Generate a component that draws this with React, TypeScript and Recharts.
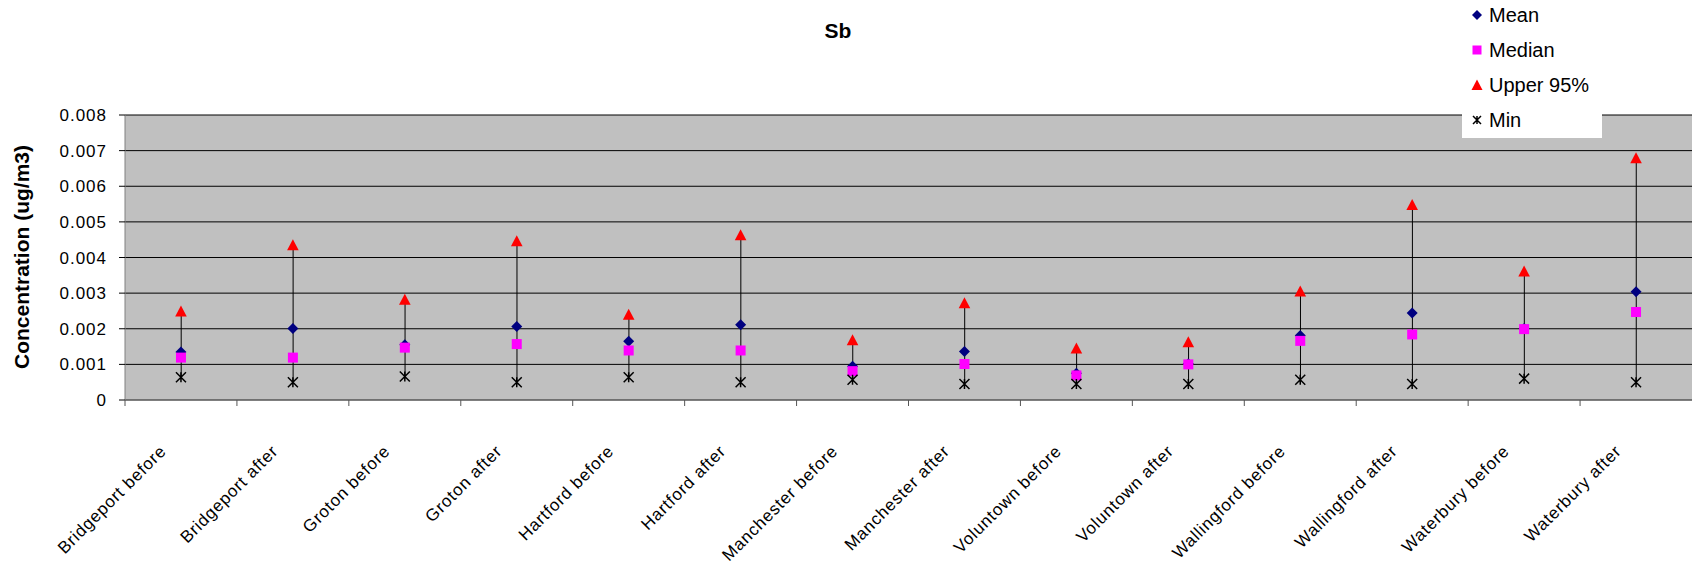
import { Bar, CartesianGrid, ComposedChart, Label, Line, XAxis, YAxis } from "recharts";

const CATEGORIES = [
  "Bridgeport before",
  "Bridgeport after",
  "Groton before",
  "Groton after",
  "Hartford before",
  "Hartford after",
  "Manchester before",
  "Manchester after",
  "Voluntown before",
  "Voluntown after",
  "Wallingford before",
  "Wallingford after",
  "Waterbury before",
  "Waterbury after",
];

const MEAN = [0.00135, 0.00201, 0.00155, 0.00206, 0.00165, 0.00211, 0.00095, 0.00136, 0.00075, 0.00102, 0.00181, 0.00244, 0.00201, 0.00304];
const MEDIAN = [0.00119, 0.00119, 0.00147, 0.00157, 0.00139, 0.00139, 0.00081, 0.00101, 0.00069, 0.001, 0.00166, 0.00184, 0.00199, 0.00247];
const UPPER_95 = [0.00249, 0.00435, 0.00282, 0.00446, 0.0024, 0.00463, 0.00168, 0.00272, 0.00145, 0.00163, 0.00305, 0.00548, 0.00361, 0.00679];
const MIN = [0.00064, 0.0005, 0.00066, 0.0005, 0.00064, 0.0005, 0.00057, 0.00045, 0.00045, 0.00045, 0.00057, 0.00045, 0.0006, 0.0005];

const Y_TICKS = [0, 0.001, 0.002, 0.003, 0.004, 0.005, 0.006, 0.007, 0.008];

const data = CATEGORIES.map((name, i) => ({
  name,
  mean: MEAN[i],
  median: MEDIAN[i],
  upper: UPPER_95[i],
  min: MIN[i],
}));

const FONT = '"Liberation Sans", Arial, sans-serif';
const WIDTH = 1692;
const HEIGHT = 565;
const PLOT_LEFT = 125;
const STEP = (WIDTH - PLOT_LEFT) / CATEGORIES.length;

const NAVY = "#000080";
const MAGENTA = "#FF00FF";
const RED = "#FF0000";

function diamond(cx: number, cy: number, r: number, key?: string | number) {
  return <path key={key} d={`M${cx},${cy - r}L${cx + r},${cy}L${cx},${cy + r}L${cx - r},${cy}Z`} fill={NAVY} />;
}
function square(cx: number, cy: number, r: number, key?: string | number) {
  return <rect key={key} x={cx - r} y={cy - r} width={2 * r} height={2 * r} fill={MAGENTA} />;
}
function triangle(cx: number, cy: number, r: number, key?: string | number) {
  return <path key={key} d={`M${cx},${cy - r}L${cx + r},${cy + r * 0.9}L${cx - r},${cy + r * 0.9}Z`} fill={RED} />;
}
function star(cx: number, cy: number, r: number, key?: string | number) {
  return (
    <path
      key={key}
      d={`M${cx - r},${cy - r}L${cx + r},${cy + r}M${cx + r},${cy - r}L${cx - r},${cy + r}M${cx},${cy - r}L${cx},${cy + r}`}
      stroke="#000"
      strokeWidth={1.5}
      fill="none"
    />
  );
}

const whisker = (p: any) => {
  const x = p.x + p.width / 2;
  return <line x1={x} x2={x} y1={p.y} y2={p.y + p.height} stroke="#000" strokeWidth={1} />;
};

const xTick = (p: any) => {
  const { x, y, payload, index } = p;
  const tx = x - 18;
  const ty = y + 48;
  return (
    <g key={`xt-${index}`}>
      <line x1={x - STEP / 2} x2={x - STEP / 2} y1={y} y2={y + 6} stroke="#555" />
      <text
        x={tx}
        y={ty}
        textAnchor="end"
        dy="0.35em"
        transform={`rotate(-45 ${tx} ${ty})`}
        fontSize={17}
        letterSpacing={0.8}
        fill="#000"
        fontFamily={FONT}
      >
        {payload.value}
      </text>
    </g>
  );
};

const LEGEND = [
  { label: "Mean", draw: (k: number) => diamond(7, 7, 5, k) },
  { label: "Median", draw: (k: number) => square(7, 7, 4.5, k) },
  { label: "Upper 95%", draw: (k: number) => triangle(7, 7, 5.5, k) },
  { label: "Min", draw: (k: number) => star(7, 7, 4, k) },
];

export default function App() {
  return (
    <div style={{ position: "absolute", left: 0, top: 0, width: WIDTH, height: HEIGHT, fontFamily: FONT }}>
      <ComposedChart
        width={WIDTH}
        height={HEIGHT}
        data={data}
        margin={{ top: 115, right: 0, bottom: 45, left: 65 }}
      >
        <CartesianGrid vertical={false} stroke="#000" fill="#C0C0C0" fillOpacity={1} />
        <XAxis
          dataKey="name"
          scale="band"
          interval={0}
          height={120}
          tickLine={false}
          tickSize={0}
          tickMargin={0}
          axisLine={{ stroke: "#808080" }}
          tick={xTick}
        />
        <YAxis
          width={60}
          domain={[0, 0.008]}
          ticks={Y_TICKS}
          allowDataOverflow
          tickSize={6}
          tickMargin={12}
          axisLine={{ stroke: "#808080" }}
          tickLine={{ stroke: "#000" }}
          tick={{ fontSize: 17, fill: "#000", fontFamily: FONT, letterSpacing: 1 }}
          tickFormatter={(v: number) => String(v)}
        >
          <Label
            content={() => (
              <text
                x={28.5}
                y={257}
                transform="rotate(-90 28.5 257)"
                textAnchor="middle"
                fontSize={21}
                fontWeight="bold"
                fontFamily={FONT}
                fill="#000"
              >
                Concentration (ug/m3)
              </text>
            )}
          />
        </YAxis>
        <Bar dataKey={(d: any) => [d.min, d.upper]} shape={whisker} isAnimationActive={false} />
        <Line dataKey="mean" stroke="none" isAnimationActive={false} activeDot={false}
          dot={(p: any) => diamond(p.cx, p.cy, 5.5, `mean-${p.index}`)} />
        <Line dataKey="median" stroke="none" isAnimationActive={false} activeDot={false}
          dot={(p: any) => square(p.cx, p.cy, 5, `median-${p.index}`)} />
        <Line dataKey="upper" stroke="none" isAnimationActive={false} activeDot={false}
          dot={(p: any) => triangle(p.cx, p.cy, 5.8, `upper-${p.index}`)} />
        <Line dataKey="min" stroke="none" isAnimationActive={false} activeDot={false}
          dot={(p: any) => star(p.cx, p.cy, 5, `min-${p.index}`)} />
      </ComposedChart>

      <div
        style={{
          position: "absolute",
          left: 738,
          top: 20,
          width: 200,
          textAlign: "center",
          fontSize: 21,
          lineHeight: "21px",
          fontWeight: "bold",
        }}
      >
        Sb
      </div>

      <div style={{ position: "absolute", left: 1462, top: 0, width: 140, height: 138, background: "#fff" }}>
        {LEGEND.map((item, i) => (
          <div key={item.label} style={{ position: "absolute", left: 8, top: -2.5 + 35 * i, height: 35, display: "flex", alignItems: "center" }}>
            <svg width={14} height={14} style={{ display: "block" }}>
              {item.draw(i)}
            </svg>
            <span style={{ marginLeft: 5, fontSize: 20, lineHeight: "35px", whiteSpace: "nowrap" }}>{item.label}</span>
          </div>
        ))}
      </div>
    </div>
  );
}
